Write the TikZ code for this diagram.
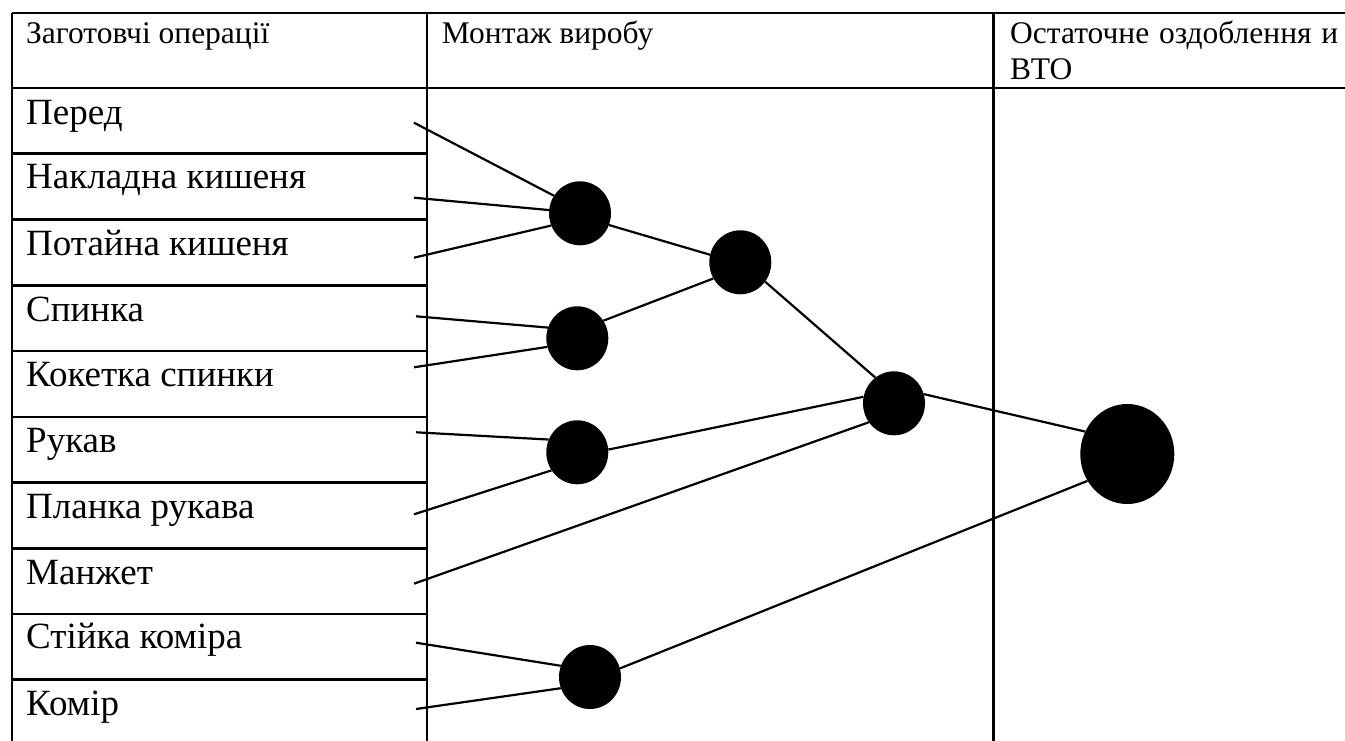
\documentclass[tikz,border=0pt]{standalone}
\usepackage{fontspec}
\setmainfont{Liberation Serif}
\usetikzlibrary{shapes.geometric}
\begin{document}
\begin{tikzpicture}[x=1pt,y=-1pt,
  tbl/.style={line width=2.8pt},
  link/.style={line width=2.2pt},
  dot/.style={ellipse,fill=black,draw=none,minimum width=62pt,minimum height=64pt,inner sep=0pt},
  bigdot/.style={dot,minimum width=94pt,minimum height=100pt},
  hdr/.style={anchor=base west,inner sep=0pt,font=\fontsize{31.5}{36}\selectfont},
  lbl/.style={anchor=base west,inner sep=0pt,font=\fontsize{37}{42}\selectfont}]
\useasboundingbox (0,0) rectangle (1345,741);

% table frame
\draw[tbl] (12,13) -- (1345,13);
\draw[tbl] (12,88) -- (1345,88);
\draw[tbl] (12,13) -- (12,741);
\draw[tbl] (427,13) -- (427,741);
\draw[tbl] (993.5,13) -- (993.5,741);
\foreach \y in {153.5,219.5,285.5,351,417,482.7,548.5,614,679.5}
  \draw[tbl] (12,\y) -- (427,\y);

% column headings (the wrapped line of the last one is justified)
\node[hdr] (h1) at (26,43.3) {Заготовчі операції};
\node[hdr] (h2) at (441.7,43.3) {Монтаж виробу};
\node[hdr] (h3) at (1010,43.3) {\makebox[328pt][s]{Остаточне оздоблення и}};
\node[hdr] (h4) at (1010,80) {ВТО};

% parts
\node[lbl] (r1) at (26,124.5) {Перед};
\node[lbl] (r2) at (26,189) {Накладна кишеня};
\node[lbl] (r3) at (26,255) {Потайна кишеня};
\node[lbl] (r4) at (26,321) {Спинка};
\node[lbl] (r5) at (26,386.5) {Кокетка спинки};
\node[lbl] (r6) at (26,452.5) {Рукав};
\node[lbl] (r7) at (26,518.2) {Планка рукава};
\node[lbl] (r8) at (26,584) {Манжет};
\node[lbl] (r9) at (26,648.5) {Стійка коміра};
\node[lbl] (r10) at (26,715) {Комір};

% free ends of the connectors
\coordinate (p1) at (414,122.7);
\coordinate (p2) at (414,197.7);
\coordinate (p3) at (414,257.7);
\coordinate (p4) at (416,316.3);
\coordinate (p5) at (414,367.3);
\coordinate (p6) at (416,432.3);
\coordinate (p7) at (414,514.3);
\coordinate (p8) at (414,583.7);
\coordinate (p9) at (416,642.7);
\coordinate (p10) at (416,709);

% assembly points
\node[dot] (c1) at (580,213.3) {};
\node[dot] (c2) at (577.3,338.3) {};
\node[dot] (c3) at (577.3,452.3) {};
\node[dot] (c4) at (740.3,262.3) {};
\node[dot] (c5) at (894,403.3) {};
\node[dot] (c7) at (590,677) {};
\node[bigdot] (c6) at (1127.3,454) {};

% connectors
\draw[link] (p1) -- (c1.146);
\draw[link] (p2) -- (c1.174);
\draw[link] (p3) -- (c1.203);
\draw[link] (p4) -- (c2.160);
\draw[link] (p5) -- (c2.196);
\draw[link] (p6) -- (c3.156);
\draw[link] (p7) -- (c3.215);
\draw[link] (c1.338) -- (c4.166);
\draw[link] (c2.34) -- (c4.211);
\draw[link] (c4.322) -- (c5.126);
\draw[link] (c3.5) -- (c5.168);
\draw[link] (p8) -- (c5.217);
\draw[link] (p9) -- (c7.159);
\draw[link] (p10) -- (c7.201);
\draw[link] (c5.17) -- (c6.152);
\draw[link] (c7.16) -- (c6.214);
\end{tikzpicture}
\end{document}
